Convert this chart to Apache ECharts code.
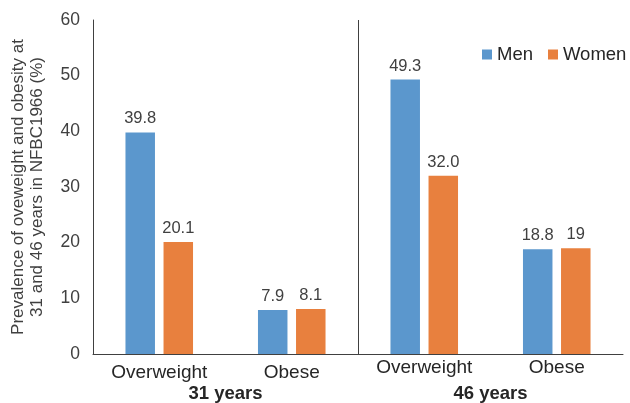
<!DOCTYPE html>
<html>
<head>
<meta charset="utf-8">
<script src="https://cdn.jsdelivr.net/npm/echarts@6/dist/echarts.min.js"></script>
<style>
html,body{margin:0;padding:0;background:#fff;}
#chart{width:630px;height:403px;}
</style>
</head>
<body>
<div id="chart"></div>
<script>
var categories = ['Overweight', 'Obese', 'Overweight', 'Obese'];
var groups = ['31 years', '46 years'];
var menValues = [39.8, 7.9, 49.3, 18.8];
var womenValues = [20.1, 8.1, 32.0, 19];
var menLabels = ['39.8', '7.9', '49.3', '18.8'];
var womenLabels = ['20.1', '8.1', '32.0', '19'];
var yTicks = [0, 10, 20, 30, 40, 50, 60];

var FONT = '"Liberation Sans", Arial, sans-serif';
var chart = echarts.init(document.getElementById('chart'), null, {renderer: 'canvas'});

var catData = categories.map(function (c, i) {
  return {value: c, textStyle: {padding: i < 2 ? [5, 0, 0, 0] : [0, 0, 0, 0]}};
});

chart.setOption({
  animation: false,
  backgroundColor: '#ffffff',
  color: ['#5B97CD', '#E8803E'],
  textStyle: {fontFamily: FONT},
  grid: {left: 93, width: 530, top: 20, bottom: 48, containLabel: false},
  legend: {
    data: ['Men', 'Women'],
    orient: 'horizontal',
    left: 482, top: 45, width: 148, padding: 0,
    icon: 'rect', itemWidth: 10, itemHeight: 10, itemGap: 15,
    textStyle: {fontFamily: FONT, fontSize: 18.5, color: '#262626'}
  },
  xAxis: [{
    type: 'category',
    data: catData,
    position: 'bottom',
    axisLine: {show: true, lineStyle: {color: '#404040', width: 1}},
    axisTick: {show: false},
    axisLabel: {fontFamily: FONT, fontSize: 19, color: '#262626', margin: 4, interval: 0},
    splitLine: {show: false}
  }, {
    type: 'category',
    data: groups,
    position: 'bottom',
    offset: 0,
    axisLine: {show: false},
    axisTick: {show: false},
    axisLabel: {fontFamily: FONT, fontSize: 18.5, fontWeight: 'bold', color: '#262626', margin: 30, interval: 0},
    splitLine: {show: false}
  }, {
    type: 'value',
    min: 0, max: categories.length,
    show: false
  }],
  yAxis: {
    type: 'value',
    min: yTicks[0], max: yTicks[yTicks.length - 1], interval: 10,
    offset: 2,
    name: 'Prevalence of oveweight and obesity at\n31 and 46 years in NFBC1966 (%)',
    nameLocation: 'middle',
    nameGap: 44,
    nameTextStyle: {fontFamily: FONT, fontSize: 17, color: '#404040', lineHeight: 19},
    axisLine: {show: true, lineStyle: {color: '#404040', width: 1}},
    axisTick: {show: false},
    axisLabel: {fontFamily: FONT, fontSize: 17.5, color: '#404040', margin: 11},
    splitLine: {show: false}
  },
  series: [{
    name: 'Men', type: 'bar', xAxisIndex: 0,
    data: menValues, barWidth: 29.5, barGap: '29%',
    label: {show: true, position: 'top', distance: 5, fontFamily: FONT, fontSize: 16.5, color: '#404040',
      formatter: function (p) { return menLabels[p.dataIndex]; }}
  }, {
    name: 'Women', type: 'bar', xAxisIndex: 0,
    data: womenValues, barWidth: 29.5, barGap: '29%',
    label: {show: true, position: 'top', distance: 5, fontFamily: FONT, fontSize: 16.5, color: '#404040',
      formatter: function (p) { return womenLabels[p.dataIndex]; }}
  }, {
    name: 'divider', type: 'scatter', xAxisIndex: 2, data: [],
    silent: true,
    markLine: {
      silent: true, symbol: ['none', 'none'], animation: false,
      label: {show: false},
      lineStyle: {type: 'solid', color: '#404040', width: 1},
      data: [{xAxis: categories.length / 2}]
    }
  }]
});
</script>
</body>
</html>
